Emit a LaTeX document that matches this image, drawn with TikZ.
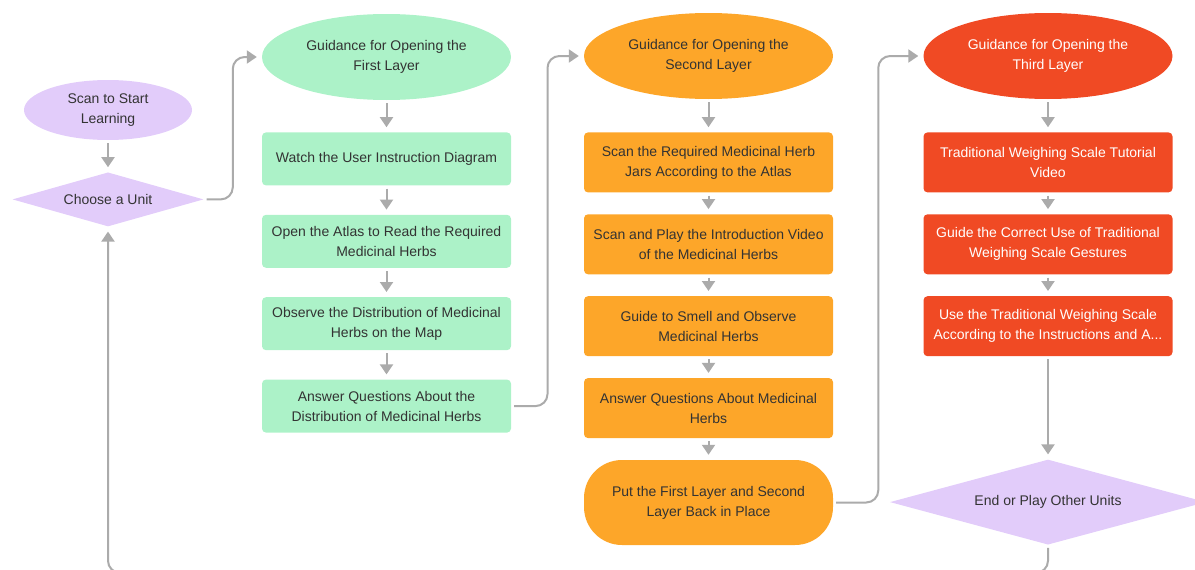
\documentclass[tikz,border=0pt]{standalone}
\usepackage{fontspec}
\setmainfont{Liberation Sans}
\usepackage{xcolor}
\usetikzlibrary{shapes.geometric, arrows.meta, positioning, calc}

\definecolor{lilac}{HTML}{E2CCFA}
\definecolor{mint}{HTML}{ACF2C8}
\definecolor{amber}{HTML}{FDA629}
\definecolor{vermil}{HTML}{F04A24}
\definecolor{linegray}{HTML}{ABABAB}
\definecolor{textgray}{HTML}{333333}

\begin{document}
\begin{tikzpicture}[
    x=1pt, y=-1pt,
    node distance=21.5pt,
    base/.style={align=center, text=textgray, inner sep=0pt, font=\fontsize{14}{20}\selectfont},
    box/.style={base, rectangle, rounded corners=4pt, minimum width=249pt, minimum height=60pt},
    head/.style={base, ellipse, minimum width=249pt, minimum height=86pt},
    choice/.style={base, diamond, aspect=3.5, fill=lilac},
    startnode/.style={base, ellipse, fill=lilac, minimum width=168pt, minimum height=60pt},
    mintbox/.style={box, fill=mint, minimum height=53pt},
    amberbox/.style={box, fill=amber},
    redbox/.style={box, fill=vermil, text=white},
    arrow/.style={-{Triangle[length=10pt, width=13pt]}, line width=2pt, draw=linegray, shorten <=3pt, shorten >=5pt},
    link/.style={arrow, rounded corners=12pt},
]
\useasboundingbox (0,0) rectangle (1195,570);

% start
\node[startnode] (start) at (108,110) {Scan to Start\\Learning};
\node[choice, minimum width=191pt, minimum height=54pt, below=32pt of start] (unit) {Choose a Unit};

% first layer
\node[head, fill=mint] (g0) at (386.5,57) {Guidance for Opening the\\First Layer};
\node[mintbox, below=32pt of g0] (g1) {Watch the User Instruction Diagram};
\node[mintbox, below=29pt of g1] (g2) {Open the Atlas to Read the Required\\Medicinal Herbs};
\node[mintbox, below=29pt of g2] (g3) {Observe the Distribution of Medicinal\\Herbs on the Map};
\node[mintbox, below=29pt of g3] (g4) {Answer Questions About the\\Distribution of Medicinal Herbs};

% second layer
\node[head, fill=amber] (o0) at (708.5,56) {Guidance for Opening the\\Second Layer};
\node[amberbox, below=33pt of o0] (o1) {Scan the Required Medicinal Herb\\Jars According to the Atlas};
\node[amberbox, below=21.5pt of o1] (o2) {Scan and Play the Introduction Video\\of the Medicinal Herbs};
\node[amberbox, below=21.5pt of o2] (o3) {Guide to Smell and Observe\\Medicinal Herbs};
\node[amberbox, below=21.5pt of o3] (o4) {Answer Questions About Medicinal\\Herbs};
\node[amberbox, rounded corners=38pt, minimum height=85pt, below=21.5pt of o4] (o5) {Put the First Layer and Second\\Layer Back in Place};

% third layer
\node[head, fill=vermil, text=white] (r0) at (1048,56) {Guidance for Opening the\\Third Layer};
\node[redbox, below=33pt of r0] (r1) {Traditional Weighing Scale Tutorial\\Video};
\node[redbox, below=21.5pt of r1] (r2) {Guide the Correct Use of Traditional\\Weighing Scale Gestures};
\node[redbox, below=21.5pt of r2] (r3) {Use the Traditional Weighing Scale\\According to the Instructions and A...};
\node[choice, minimum width=316pt, minimum height=85pt, below=103pt of r3] (finish) {End or Play Other Units};

% arrows
\draw[arrow] (start) -- (unit);
\draw[arrow] (g0) -- (g1);
\draw[arrow] (g1) -- (g2);
\draw[arrow] (g2) -- (g3);
\draw[arrow] (g3) -- (g4);
\draw[arrow] (o0) -- (o1);
\draw[arrow] (o1) -- (o2);
\draw[arrow] (o2) -- (o3);
\draw[arrow] (o3) -- (o4);
\draw[arrow] (o4) -- (o5);
\draw[arrow] (r0) -- (r1);
\draw[arrow] (r1) -- (r2);
\draw[arrow] (r2) -- (r3);
\draw[arrow] (r3) -- (finish);

\draw[link] (unit.east) -| ($(unit.east)!.5!(g0.west)$) |- (g0.west);
\draw[link] (g4.east) -| ($(g4.east)!.5!(o0.west)$) |- (o0.west);
\draw[link] (o5.east) -| ($(o5.east)!.5!(r0.west)$) |- (r0.west);
\draw[link] (finish.south) -- ++(0,28) -| (unit.south);

\end{tikzpicture}
\end{document}
